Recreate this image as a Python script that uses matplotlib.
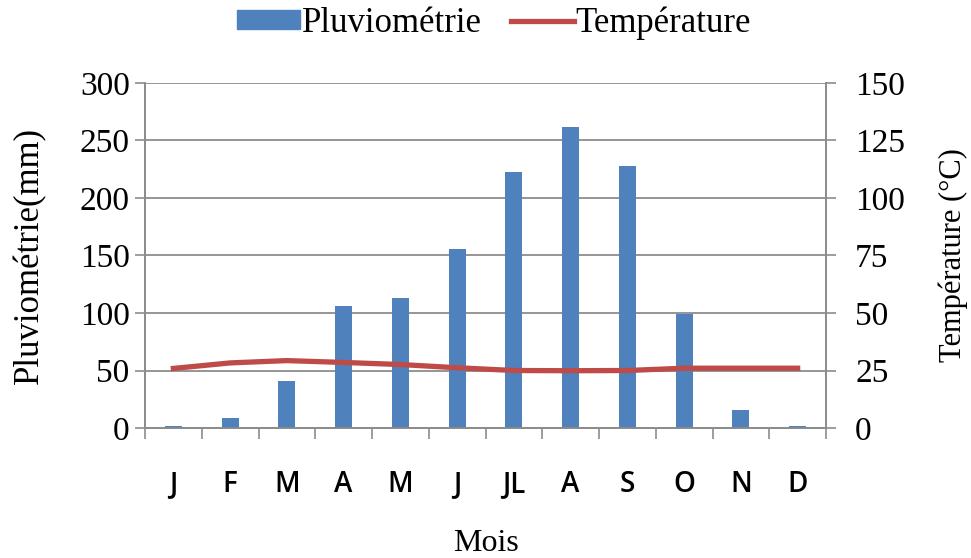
import numpy as np
import matplotlib.pyplot as plt
from matplotlib.lines import Line2D
from matplotlib.patches import Patch

months = ["J", "F", "M", "A", "M", "J", "JL", "A", "S", "O", "N", "D"]
pluvio = [1.7, 8.7, 40.8, 106.5, 113.0, 155.5, 223.0, 262.0, 228.0, 99.0, 15.5, 1.7]
temperature = [25.9, 28.3, 29.3, 28.5, 27.6, 26.2, 25.0, 24.9, 25.0, 26.0, 26.0, 26.0]

serif = ['Liberation Serif', 'DejaVu Serif']
sans = ['Open Sans', 'DejaVu Sans']
grey = '#8c8c8c'

fig = plt.figure(figsize=(9.71, 5.58), dpi=100)
ax = fig.add_axes([145 / 971, 1 - 428 / 558, (826 - 145) / 971, (428 - 83) / 558])
ax2 = ax.twinx()

x = np.arange(len(months))
ax.bar(x, pluvio, width=0.3, color='#4F81BD', zorder=3)
ax2.plot(x, temperature, color='#BE4B48', lw=3.8, zorder=4)

ax.set_xlim(-0.5, 11.5)
ax.set_ylim(0, 300)
ax2.set_ylim(0, 150)
ax.set_yticks(np.arange(0, 301, 50))
ax2.set_yticks(np.arange(0, 151, 25))
ax.grid(axis='y', color=grey, lw=1.3, zorder=0)
ax.set_axisbelow(True)

ax.set_xticks(x)
ax.set_xticklabels(months, family=sans, fontsize=20, fontweight=600)
ax.set_xticks(np.arange(-0.5, 12, 1), minor=True)
ax.tick_params(axis='x', which='major', length=0, pad=30)
ax.tick_params(axis='x', which='minor', length=8, color=grey, width=1.2)
ax.tick_params(axis='y', length=7, color=grey, width=1.2, pad=4)
ax2.tick_params(axis='y', length=7, color=grey, width=1.2, pad=14)
for lab in ax.get_yticklabels() + ax2.get_yticklabels():
    lab.set_family(serif)
    lab.set_fontsize(24)

for a in (ax, ax2):
    a.spines['top'].set_visible(False)
    for s in ('left', 'right', 'bottom'):
        a.spines[s].set_color(grey)
        a.spines[s].set_linewidth(1.3)

ax.set_ylabel('Pluviométrie(mm)', family=serif, fontsize=25, labelpad=24)
ax2.set_ylabel('Température (°C)', family=serif, fontsize=22, labelpad=24)
ax.set_xlabel('Mois', family=serif, fontsize=23, labelpad=22)

handles = [Patch(color='#4F81BD'), Line2D([0], [0], color='#BE4B48', lw=3.8)]
fig.legend(handles, ['Pluviométrie', 'Température'], loc='upper center',
           bbox_to_anchor=(0.509, 1.045), ncol=2, frameon=False,
           prop={'family': serif, 'size': 25}, handlelength=1.8,
           handleheight=0.45, handletextpad=0.05, columnspacing=0.85)

fig.savefig('out.png', dpi=100)
